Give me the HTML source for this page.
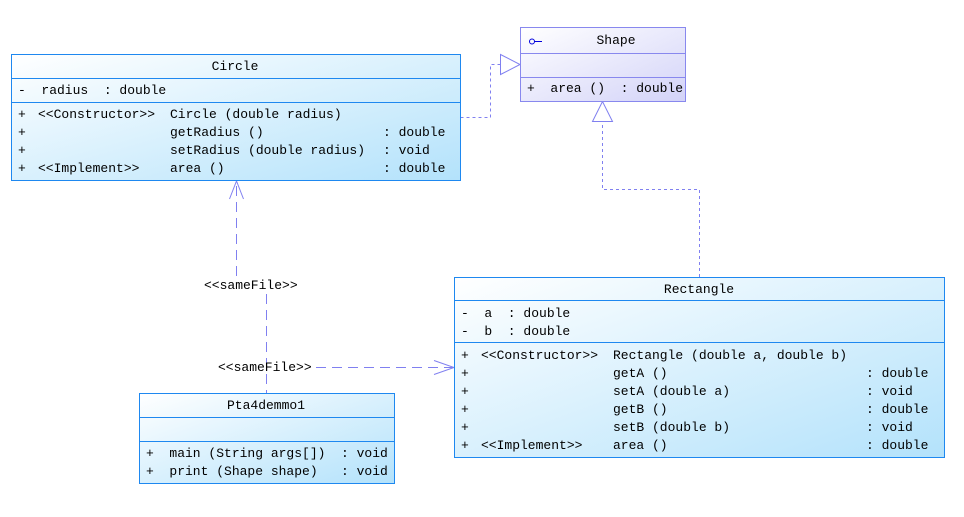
<!DOCTYPE html>
<html><head><meta charset="utf-8"><style>
html,body{margin:0;padding:0;background:#fff;}
svg{display:block;}
text{font-family:"Liberation Mono","DejaVu Sans Mono",monospace;font-size:13px;fill:#000;}
</style></head><body>
<svg width="964" height="517" xmlns="http://www.w3.org/2000/svg">
<defs>
<linearGradient id="b" x1="0" y1="0" x2="1" y2="1">
<stop offset="0" stop-color="#ffffff"/><stop offset="1" stop-color="#b3e2fb"/></linearGradient>
<linearGradient id="p" x1="0" y1="0" x2="1" y2="1">
<stop offset="0" stop-color="#ffffff"/><stop offset="1" stop-color="#d3d3f8"/></linearGradient>
</defs>
<rect width="964" height="517" fill="#fff"/>

<g fill="none" stroke="#8080f0" stroke-width="1">
<polyline points="460.5,117.5 490.5,117.5 490.5,64.5 500,64.5" stroke-dasharray="3,3"/>
<polygon points="500.5,54.5 520,64.5 500.5,74.5" fill="#fff"/>
<polyline points="699.5,277 699.5,189.5 602.5,189.5 602.5,121.5" stroke-dasharray="3,3"/>
<polygon points="592.5,121.5 602.5,101.5 612.5,121.5" fill="#fff"/>
<line x1="236.5" y1="276" x2="236.5" y2="181" stroke-dasharray="10,6"/>
<polyline points="229.5,199 236.5,181 243.5,199"/>
<line x1="266.5" y1="294" x2="266.5" y2="393" stroke-dasharray="10,6"/>
<line x1="316" y1="367.5" x2="454" y2="367.5" stroke-dasharray="10,6"/>
<polyline points="434,360.5 454,367.5 434,374.5"/>
</g>
<text x="204" y="289">&lt;&lt;sameFile&gt;&gt;</text>
<text x="218" y="371">&lt;&lt;sameFile&gt;&gt;</text>

<rect x="11.5" y="54.5" width="449" height="126" fill="url(#b)" stroke="#1e88f0"/>
<line x1="11" y1="78.5" x2="461" y2="78.5" stroke="#1e88f0"/>
<line x1="11" y1="102.5" x2="461" y2="102.5" stroke="#1e88f0"/>
<text x="235" y="70" text-anchor="middle">Circle</text>
<text x="18" y="94" xml:space="preserve">-  radius  : double</text>
<text x="18" y="118">+</text><text x="38" y="118">&lt;&lt;Constructor&gt;&gt;</text><text x="170" y="118">Circle (double radius)</text>
<text x="18" y="136">+</text><text x="170" y="136">getRadius ()</text><text x="383" y="136">: double</text>
<text x="18" y="154">+</text><text x="170" y="154">setRadius (double radius)</text><text x="383" y="154">: void</text>
<text x="18" y="172">+</text><text x="38" y="172">&lt;&lt;Implement&gt;&gt;</text><text x="170" y="172">area ()</text><text x="383" y="172">: double</text>

<rect x="520.5" y="27.5" width="165" height="74" fill="url(#p)" stroke="#8888ee"/>
<line x1="520" y1="53.5" x2="686" y2="53.5" stroke="#8888ee"/>
<line x1="520" y1="77.5" x2="686" y2="77.5" stroke="#8888ee"/>
<circle cx="532" cy="41.5" r="2.5" fill="none" stroke="#0000dd"/>
<line x1="534.5" y1="41.5" x2="542" y2="41.5" stroke="#0000dd"/>
<text x="616" y="44" text-anchor="middle">Shape</text>
<text x="527" y="92" xml:space="preserve">+  area ()  : double</text>

<rect x="454.5" y="277.5" width="490" height="180" fill="url(#b)" stroke="#1e88f0"/>
<line x1="454" y1="300.5" x2="945" y2="300.5" stroke="#1e88f0"/>
<line x1="454" y1="342.5" x2="945" y2="342.5" stroke="#1e88f0"/>
<text x="699" y="293" text-anchor="middle">Rectangle</text>
<text x="461" y="317" xml:space="preserve">-  a  : double</text>
<text x="461" y="335" xml:space="preserve">-  b  : double</text>
<text x="461" y="359">+</text><text x="481" y="359">&lt;&lt;Constructor&gt;&gt;</text><text x="613" y="359">Rectangle (double a, double b)</text>
<text x="461" y="377">+</text><text x="613" y="377">getA ()</text><text x="866" y="377">: double</text>
<text x="461" y="395">+</text><text x="613" y="395">setA (double a)</text><text x="866" y="395">: void</text>
<text x="461" y="413">+</text><text x="613" y="413">getB ()</text><text x="866" y="413">: double</text>
<text x="461" y="431">+</text><text x="613" y="431">setB (double b)</text><text x="866" y="431">: void</text>
<text x="461" y="449">+</text><text x="481" y="449">&lt;&lt;Implement&gt;&gt;</text><text x="613" y="449">area ()</text><text x="866" y="449">: double</text>

<rect x="139.5" y="393.5" width="255" height="90" fill="url(#b)" stroke="#1e88f0"/>
<line x1="139" y1="417.5" x2="395" y2="417.5" stroke="#1e88f0"/>
<line x1="139" y1="441.5" x2="395" y2="441.5" stroke="#1e88f0"/>
<text x="266" y="409" text-anchor="middle">Pta4demmo1</text>
<text x="146" y="457" xml:space="preserve">+  main (String args[])  : void</text>
<text x="146" y="475" xml:space="preserve">+  print (Shape shape)   : void</text>
</svg>
</body></html>
